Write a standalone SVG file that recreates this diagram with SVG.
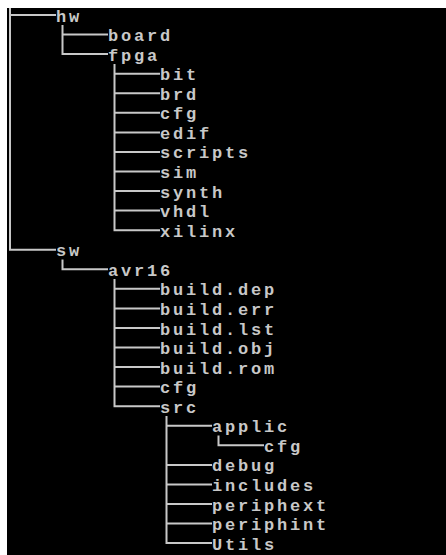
<svg xmlns="http://www.w3.org/2000/svg" width="446" height="555" viewBox="0 0 446 555">
<style>
.t{font-family:"Liberation Mono","DejaVu Sans Mono",monospace;font-weight:bold;font-size:17px;letter-spacing:2.8px;fill:#c8c8c8}
.c{stroke:#c8c8c8;stroke-width:2;fill:none}
</style>
<rect x="0" y="0" width="446" height="555" fill="#ffffff"/>
<rect x="7" y="8" width="439" height="547" fill="#000000"/>
<g id="connectors" class="c">
<path d="M10 8V249.7H56"/>
<path d="M10 15H56"/>
<path d="M62.5 25V54.1H108M62.5 34.6H108"/>
<path d="M114.5 64V230.2H160M114.5 73.7H160M114.5 93.2H160M114.5 112.8H160M114.5 132.4H160M114.5 151.9H160M114.5 171.5H160M114.5 191H160M114.5 210.6H160"/>
<path d="M62.5 259.5V269.3H108"/>
<path d="M114.5 279V406.2H160M114.5 288.8H160M114.5 308.4H160M114.5 328H160M114.5 347.5H160M114.5 367.1H160M114.5 386.6H160"/>
<path d="M166.5 416V543.1H212M166.5 425.8H212M166.5 464.9H212M166.5 484.4H212M166.5 504H212M166.5 523.6H212"/>
<path d="M218.5 435.6V445.3H264"/>
</g>
<g id="hw"><text class="t" x="56" y="21.5">hw</text></g>
<g id="board"><text class="t" x="108" y="41.1">board</text></g>
<g id="fpga"><text class="t" x="108" y="60.6">fpga</text></g>
<g id="bit"><text class="t" x="160" y="80.2">bit</text></g>
<g id="brd"><text class="t" x="160" y="99.7">brd</text></g>
<g id="fpga-cfg"><text class="t" x="160" y="119.3">cfg</text></g>
<g id="edif"><text class="t" x="160" y="138.9">edif</text></g>
<g id="scripts"><text class="t" x="160" y="158.4">scripts</text></g>
<g id="sim"><text class="t" x="160" y="178">sim</text></g>
<g id="synth"><text class="t" x="160" y="197.5">synth</text></g>
<g id="vhdl"><text class="t" x="160" y="217.1">vhdl</text></g>
<g id="xilinx"><text class="t" x="160" y="236.7">xilinx</text></g>
<g id="sw"><text class="t" x="56" y="256.2">sw</text></g>
<g id="avr16"><text class="t" x="108" y="275.8">avr16</text></g>
<g id="build-dep"><text class="t" x="160" y="295.3">build.dep</text></g>
<g id="build-err"><text class="t" x="160" y="314.9">build.err</text></g>
<g id="build-lst"><text class="t" x="160" y="334.5">build.lst</text></g>
<g id="build-obj"><text class="t" x="160" y="354">build.obj</text></g>
<g id="build-rom"><text class="t" x="160" y="373.6">build.rom</text></g>
<g id="avr16-cfg"><text class="t" x="160" y="393.1">cfg</text></g>
<g id="src"><text class="t" x="160" y="412.7">src</text></g>
<g id="applic"><text class="t" x="212" y="432.3">applic</text></g>
<g id="applic-cfg"><text class="t" x="264" y="451.8">cfg</text></g>
<g id="debug"><text class="t" x="212" y="471.4">debug</text></g>
<g id="includes"><text class="t" x="212" y="490.9">includes</text></g>
<g id="periphext"><text class="t" x="212" y="510.5">periphext</text></g>
<g id="periphint"><text class="t" x="212" y="530.1">periphint</text></g>
<g id="Utils"><text class="t" x="212" y="549.6">Utils</text></g>
</svg>
